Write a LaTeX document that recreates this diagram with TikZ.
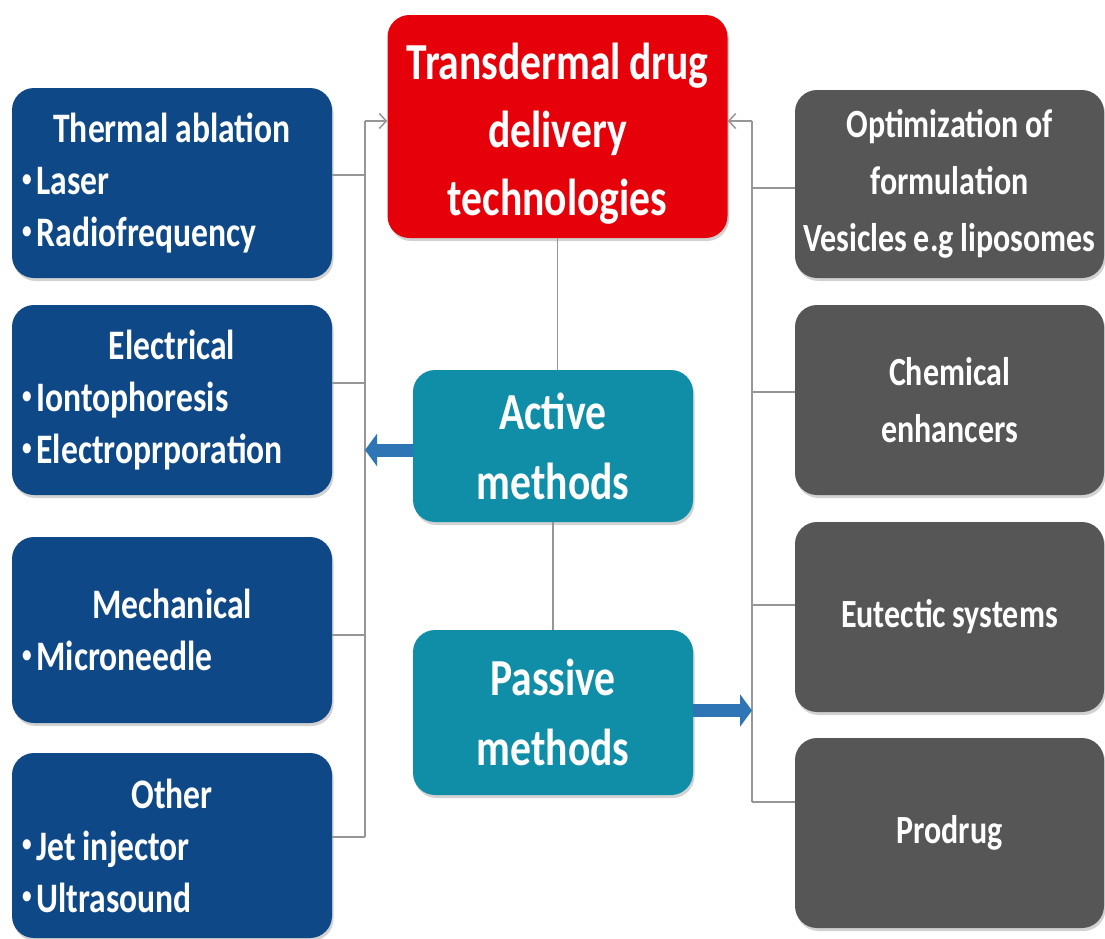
\documentclass[tikz,border=0pt]{standalone}
\usepackage{fontspec}
\setmainfont{Carlito}[FakeStretch=0.8]
\usetikzlibrary{arrows.meta,positioning,shadows}

\definecolor{navybox}{RGB}{14,72,134}
\definecolor{greybox}{RGB}{86,86,86}
\definecolor{redbox}{RGB}{230,0,10}
\definecolor{tealbox}{RGB}{16,142,168}
\definecolor{fatblue}{RGB}{46,117,182}
\definecolor{linkgrey}{RGB}{150,150,150}

% small bullet for the sub items, tight word spaces
\newcommand{\blt}{{\fontsize{24}{24}\selectfont\raisebox{0.35em}{•}}\hspace{5pt}}
\newcommand{\tightsp}{\spaceskip=0.16em\xspaceskip=0.16em\relax}

\begin{document}
\begin{tikzpicture}[
    x=1pt, y=-1pt,
    tile/.style={rounded corners=22pt, text=white, execute at begin node=\tightsp,
      drop shadow={shadow xshift=1.5pt, shadow yshift=-3pt, opacity=0.35}},
    leftbox/.style={tile, fill=navybox, text width=300pt, inner xsep=10pt, inner ysep=4pt,
      minimum height=190pt, align=left, font=\fontsize{42}{52}\selectfont\bfseries},
    rightbox/.style={tile, fill=greybox, text width=301pt, inner xsep=4pt, inner ysep=4pt,
      minimum height=190pt, align=center, font=\fontsize{40}{57}\selectfont\bfseries},
    topbox/.style={tile, fill=redbox, text width=330pt, inner xsep=5pt, minimum height=223pt,
      align=center, font=\fontsize{52}{68}\selectfont\bfseries},
    midbox/.style={tile, fill=tealbox, text width=270pt, inner xsep=5pt, minimum height=152pt,
      align=center, font=\fontsize{52}{70}\selectfont\bfseries},
    link/.style={draw=linkgrey, line width=1.5pt},
    tip/.style={link, -{Straight Barb[length=7pt,width=15pt]}},
    fat/.style={draw=fatblue, line width=13pt, -{Triangle[length=12pt,width=32pt]}}
]
\fill[white] (0,0) rectangle (1105,938);
\useasboundingbox (0,0) rectangle (1105,938);

% Centre column
\node[topbox] (tdd) at (557.5,126.5) {\rule{0pt}{50pt}Transdermal drug\\delivery\\technologies};
\node[midbox] (active) at (553,446) {Active\\methods};
\node[midbox, minimum height=165pt] (passive) at (553,712.5) {Passive\\methods};

% Active methods (left side)
\node[leftbox] (thermal) at (172,183) {{\centering Thermal ablation\par}\blt Laser\\\blt Radiofrequency};
\node[leftbox] (electrical) at (172,400) {{\centering Electrical\par}\blt Iontophoresis\\\blt Electroprporation};
\node[leftbox, minimum height=186pt] (mechanical) at (172,630) {{\centering Mechanical\par}\blt Microneedle};
\node[leftbox, minimum height=185pt] (other) at (172,845.5) {{\centering Other\par}\blt Jet injector\\\blt Ultrasound};

% Passive methods (right side)
\node[rightbox, minimum height=188pt] (formulation) at (949.5,184) {Optimization of\\formulation\\Vesicles e.g liposomes};
\node[rightbox] (chemical) at (949.5,400) {Chemical\\enhancers};
\node[rightbox] (eutectic) at (949.5,617) {Eutectic systems};
\node[rightbox] (prodrug) at (949.5,833) {Prodrug};

% Buses
\coordinate (lbustop) at (365,121);
\coordinate (lbusend) at (365,837);
\coordinate (rbustop) at (752,121);
\coordinate (rbusend) at (752,802);

\draw[link] (lbusend) -- (lbustop);
\draw[tip] (lbustop) -- (lbustop -| tdd.west);
\draw[link] ([yshift=8pt]thermal.east) -- ([yshift=8pt]thermal.east -| lbustop);
\draw[link] ([yshift=17pt]electrical.east) -- ([yshift=17pt]electrical.east -| lbustop);
\draw[link] ([yshift=-5pt]mechanical.east) -- ([yshift=-5pt]mechanical.east -| lbustop);
\draw[link] ([yshift=8.5pt]other.east) -- ([yshift=8.5pt]other.east -| lbustop);

\draw[link] (rbusend) -- (rbustop);
\draw[tip] (rbustop) -- (rbustop -| tdd.east);
\draw[link] ([yshift=-4pt]formulation.west) -- ([yshift=-4pt]formulation.west -| rbustop);
\draw[link] ([yshift=8pt]chemical.west) -- ([yshift=8pt]chemical.west -| rbustop);
\draw[link] ([yshift=12pt]eutectic.west) -- ([yshift=12pt]eutectic.west -| rbustop);
\draw[link] ([yshift=31pt]prodrug.west) -- ([yshift=31pt]prodrug.west -| rbustop);

\draw[link] (tdd.south) -- (tdd.south |- active.north);
\draw[link] (active.south) -- (passive.north);

\draw[fat] ([yshift=-4pt]active.west) -- ([yshift=-4pt]active.west -| lbustop);
\draw[fat] ([yshift=2pt]passive.east) -- ([yshift=2pt]passive.east -| rbustop);
\end{tikzpicture}
\end{document}
